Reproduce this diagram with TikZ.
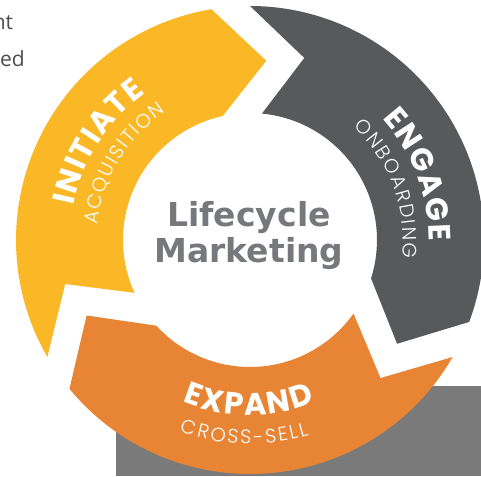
\documentclass[tikz,border=0pt]{standalone}
\usepackage{fontspec}
\usetikzlibrary{decorations.text}
\newfontfamily\popfont{Poppins}
\newfontfamily\poplight{Poppins Light}
\newfontfamily\dvsfont{DejaVu Sans}
\newfontfamily\osfont{Open Sans}
\definecolor{cyel}{HTML}{FBB826}
\definecolor{cgry}{HTML}{58595B}
\definecolor{corg}{HTML}{E88534}
\definecolor{crect}{HTML}{7A7A7B}
\definecolor{ctxt}{HTML}{77787B}
\definecolor{cpar}{HTML}{4D4D4F}
\newcommand\ringseg[2]{%
  \fill[#1] (#2:234pt) -- (#2-16.6:190pt) -- (#2-5.4:127pt)
    arc[start angle=#2-5.4, end angle=#2-107.6, radius=127pt]
    -- (#2-125.2:180pt) -- (#2-110.5:234pt)
    arc[start angle=#2-110.5, end angle=#2, radius=234pt] -- cycle;}
\tikzset{
  bigtxt/.style={decorate, decoration={text along path, text align=fit to path, text color=white,
     text={|\popfont\bfseries\fontsize{31}{33}\selectfont|#1}}},
  smalltxt/.style={decorate, decoration={text along path, text align=fit to path, text color=white,
     text={|\poplight\fontsize{19.5}{21}\selectfont|#1}}},
  paratxt/.style={anchor=base east, inner sep=0pt, text=cpar, font=\osfont\fontsize{21}{24}\selectfont},
  titletxt/.style={anchor=base, inner sep=0pt, text=ctxt, font=\dvsfont\bfseries\fontsize{33}{36}\selectfont}
}
\begin{document}
\begin{tikzpicture}[x=1pt,y=1pt]
\useasboundingbox (0,0) rectangle (481,476);
\fill[crect] (116,0) rectangle (481,90);
\node[paratxt] (p1) at (13.3,446) {nt};
\node[paratxt] (p2) at (25,409) {ed};
\begin{scope}[shift={(250,236)}]
  \ringseg{cgry}{90}
  \ringseg{corg}{-30}
  \ringseg{cyel}{210}
  \path[bigtxt=INITIATE] (169:180pt) arc[start angle=169, end angle=125.5, radius=180pt];
  \path[smalltxt=ACQUISITION] (174.3:153pt) arc[start angle=174.3, end angle=123.4, radius=153pt];
  \path[bigtxt=ENGAGE] (42.5:179pt) arc[start angle=42.5, end angle=-0.3, radius=179pt];
  \path[smalltxt=ONBOARDING] (47.6:153pt) arc[start angle=47.6, end angle=-6.7, radius=153pt];
  \path[bigtxt=EXPAND] (247.3:175pt) arc[start angle=247.3, end angle=291.7, radius=175pt];
  \path[smalltxt=CROSS-SELL] (249.9:204pt) arc[start angle=249.9, end angle=286.8, radius=204pt];
\end{scope}
\node[titletxt] (t1) at (249,249) {Lifecycle};
\node[titletxt] (t2) at (249,213) {Marketing};
\end{tikzpicture}
\end{document}
